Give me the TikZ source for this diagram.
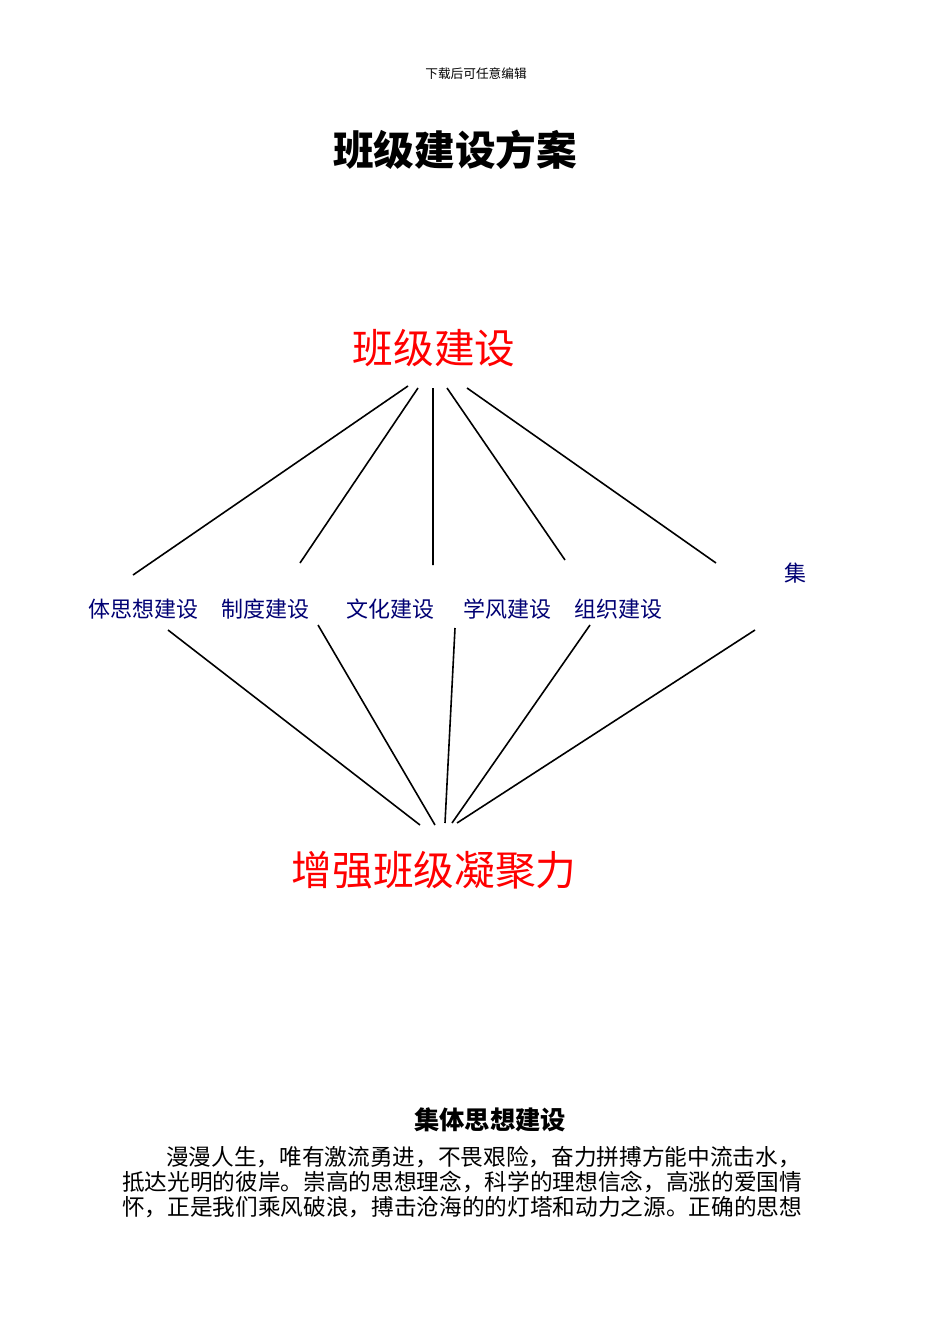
\documentclass[tikz,border=0pt]{standalone}
\usepackage{fontspec}
\setmainfont{Liberation Serif}
\newfontfamily\cjk{Noto Sans CJK SC}
\begin{document}
\begin{tikzpicture}[x=0.75pt,y=-0.75pt,
  lbl/.style={font=\cjk\fontsize{16.5}{18}\selectfont,text=blue!45!black,inner sep=0pt},
  big/.style={font=\cjk\fontsize{30.5}{34}\selectfont,text=red,inner sep=0pt},
  para/.style={font=\cjk\fontsize{17}{19}\selectfont,anchor=west,inner sep=0pt},
  ln/.style={line width=1.2pt}]
\useasboundingbox (0,0) rectangle (950,1344);
\node[font=\cjk\fontsize{9.5}{11}\selectfont,inner sep=0pt] (hdr) at (476,74) {下载后可任意编辑};
\node[font=\cjk\bfseries\fontsize{30.5}{34}\selectfont,inner sep=0pt] (title) at (455,150) {班级建设方案};
\node[big] (top) at (434,348) {班级建设};
\node[lbl] (a) at (143,609) {体思想建设};
\node[lbl] (b) at (265,609) {制度建设};
\node[lbl] (c) at (390,609) {文化建设};
\node[lbl] (d) at (507,609) {学风建设};
\node[lbl] (e) at (618,609) {组织建设};
\node[lbl] (f) at (795,573) {集};
\node[big] (bot) at (434,870) {增强班级凝聚力};
\coordinate (t1) at (408,386); \coordinate (t2) at (418,388); \coordinate (t3) at (433,388);
\coordinate (t4) at (447,388); \coordinate (t5) at (467,388);
\coordinate (u1) at (133,575); \coordinate (u2) at (300,563); \coordinate (u3) at (433,565);
\coordinate (u4) at (565,560); \coordinate (u5) at (716,563);
\draw[ln] (t1)--(u1) (t2)--(u2) (t3)--(u3) (t4)--(u4) (t5)--(u5);
\coordinate (v1) at (168,630); \coordinate (v2) at (318,625); \coordinate (v3) at (455,628);
\coordinate (v4) at (590,625); \coordinate (v5) at (755,630);
\coordinate (w1) at (420,825); \coordinate (w2) at (435,825); \coordinate (w3) at (445,823);
\coordinate (w4) at (452,823); \coordinate (w5) at (457,823);
\draw[ln] (v1)--(w1) (v2)--(w2) (v3)--(w3) (v4)--(w4) (v5)--(w5);
\node[font=\cjk\bfseries\fontsize{19}{22}\selectfont,inner sep=0pt] (sec) at (490,1120) {集体思想建设};
\node[para] (p1) at (166,1157) {漫漫人生，唯有激流勇进，不畏艰险，奋力拼搏方能中流击水，};
\node[para] (p2) at (122,1182) {抵达光明的彼岸。崇高的思想理念，科学的理想信念，高涨的爱国情};
\node[para] (p3) at (122,1207) {怀，正是我们乘风破浪，搏击沧海的的灯塔和动力之源。正确的思想};
\end{tikzpicture}
\end{document}
